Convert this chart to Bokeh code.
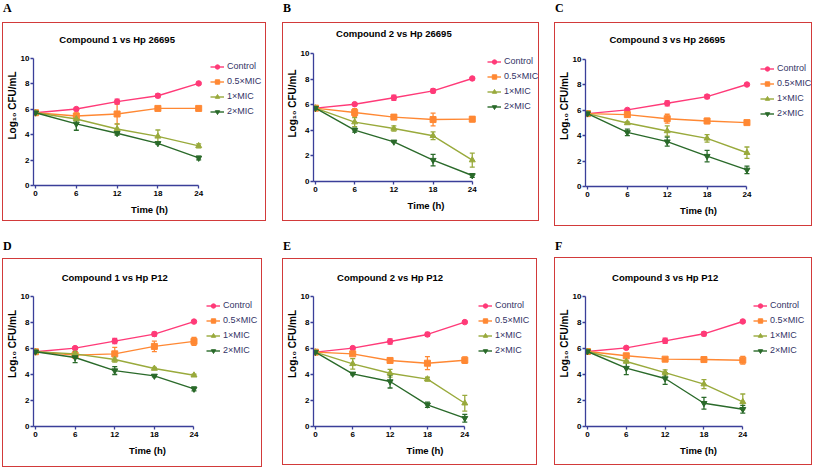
from bokeh.plotting import figure
from bokeh.models import (Range1d, Legend, LegendItem, Whisker, TeeHead, ColumnDataSource,
                          FixedTicker, Div, Label)
from bokeh.layouts import column, row
from bokeh.embed import file_html
from bokeh.resources import INLINE

hours = [0, 6, 12, 18, 24]
series_names = ["Control", "0.5×MIC", "1×MIC", "2×MIC"]
panel_letters = ["A", "B", "C", "D", "E", "F"]
panel_titles = ["Compound 1 vs Hp 26695", "Compound 2 vs Hp 26695", "Compound 3 vs Hp 26695",
                "Compound 1 vs Hp P12", "Compound 2 vs Hp P12", "Compound 3 vs Hp P12"]
y_ticks = [0, 2, 4, 6, 8, 10]

# Panel A
a_control = [5.73, 6.02, 6.60, 7.07, 8.04]
a_control_sd = [0.08, 0.10, 0.20, 0.15, 0.08]
a_half = [5.73, 5.47, 5.63, 6.07, 6.07]
a_half_sd = [0.08, 0.30, 0.80, 0.10, 0.08]
a_one = [5.73, 5.24, 4.45, 3.87, 3.12]
a_one_sd = [0.08, 0.15, 0.40, 0.50, 0.15]
a_two = [5.73, 4.85, 4.11, 3.32, 2.17]
a_two_sd = [0.08, 0.50, 0.15, 0.08, 0.15]
# Panel B
b_control = [5.73, 6.04, 6.54, 7.08, 8.05]
b_control_sd = [0.08, 0.10, 0.20, 0.15, 0.08]
b_half = [5.73, 5.39, 5.03, 4.84, 4.87]
b_half_sd = [0.08, 0.30, 0.10, 0.50, 0.20]
b_one = [5.73, 4.64, 4.14, 3.57, 1.67]
b_one_sd = [0.08, 0.35, 0.20, 0.30, 0.55]
b_two = [5.73, 4.01, 3.10, 1.67, 0.47]
b_two_sd = [0.08, 0.15, 0.05, 0.45, 0.15]
# Panel C
c_control = [5.74, 6.03, 6.55, 7.08, 8.03]
c_control_sd = [0.08, 0.10, 0.20, 0.15, 0.08]
c_half = [5.74, 5.66, 5.34, 5.16, 5.03]
c_half_sd = [0.08, 0.20, 0.35, 0.20, 0.15]
c_one = [5.74, 5.00, 4.37, 3.79, 2.66]
c_one_sd = [0.08, 0.08, 0.40, 0.30, 0.45]
c_two = [5.74, 4.26, 3.53, 2.39, 1.31]
c_two_sd = [0.08, 0.25, 0.35, 0.45, 0.30]
# Panel D
d_control = [5.75, 6.03, 6.57, 7.11, 8.07]
d_control_sd = [0.08, 0.10, 0.20, 0.15, 0.08]
d_half = [5.75, 5.49, 5.59, 6.16, 6.55]
d_half_sd = [0.08, 0.15, 0.50, 0.40, 0.30]
d_one = [5.75, 5.59, 5.15, 4.46, 3.94]
d_one_sd = [0.08, 0.20, 0.20, 0.08, 0.08]
d_two = [5.75, 5.31, 4.30, 3.89, 2.89]
d_two_sd = [0.08, 0.40, 0.30, 0.08, 0.15]
# Panel E
e_control = [5.72, 6.03, 6.54, 7.08, 8.03]
e_control_sd = [0.08, 0.10, 0.20, 0.15, 0.08]
e_half = [5.72, 5.59, 5.08, 4.87, 5.10]
e_half_sd = [0.08, 0.10, 0.10, 0.50, 0.25]
e_one = [5.72, 4.82, 4.10, 3.64, 1.79]
e_one_sd = [0.08, 0.40, 0.30, 0.15, 0.60]
e_two = [5.72, 4.05, 3.46, 1.67, 0.64]
e_two_sd = [0.08, 0.08, 0.50, 0.20, 0.30]
# Panel F
f_control = [5.77, 6.05, 6.59, 7.13, 8.08]
f_control_sd = [0.08, 0.10, 0.20, 0.15, 0.08]
f_half = [5.77, 5.44, 5.18, 5.15, 5.10]
f_half_sd = [0.08, 0.10, 0.10, 0.10, 0.30]
f_one = [5.77, 5.00, 4.15, 3.26, 1.90]
f_one_sd = [0.08, 0.08, 0.20, 0.35, 0.60]
f_two = [5.77, 4.49, 3.69, 1.79, 1.33]
f_two_sd = [0.08, 0.50, 0.45, 0.45, 0.30]

panels_data = [
    [(a_control, a_control_sd), (a_half, a_half_sd), (a_one, a_one_sd), (a_two, a_two_sd)],
    [(b_control, b_control_sd), (b_half, b_half_sd), (b_one, b_one_sd), (b_two, b_two_sd)],
    [(c_control, c_control_sd), (c_half, c_half_sd), (c_one, c_one_sd), (c_two, c_two_sd)],
    [(d_control, d_control_sd), (d_half, d_half_sd), (d_one, d_one_sd), (d_two, d_two_sd)],
    [(e_control, e_control_sd), (e_half, e_half_sd), (e_one, e_one_sd), (e_two, e_two_sd)],
    [(f_control, f_control_sd), (f_half, f_half_sd), (f_one, f_one_sd), (f_two, f_two_sd)],
]

# styling
COLORS = ["#ff3a78", "#ff8833", "#99aa3c", "#2a6a2a"]
MARKERS = ["circle", "square", "triangle", "inverted_triangle"]
AXIS_COLOR = "#3a3f99"
BOX_COLOR = "#d23a3a"
CELL_W, CELL_H = 271, 234
XPAD = 0.3
FONT = "Liberation Sans"

# per-panel geometry, pixels inside each 271x234 cell
GEOM = [
    dict(x0=31, x24=197, top=58, bottom=185, box=(3, 23, 265, 220), leg=(213, 66), title_y=39, let_top=2),
    dict(x0=38, x24=199, top=53, bottom=181, box=(12, 23, 267, 220), leg=(217, 61), title_y=33, let_top=2),
    dict(x0=40, x24=203, top=59, bottom=186, box=(13, 23, 269, 225), leg=(220, 68), title_y=39, let_top=2),
    dict(x0=30, x24=192, top=62, bottom=192, box=(3, 25, 261, 232), leg=(208, 71), title_y=43, let_top=6),
    dict(x0=43, x24=193, top=62, bottom=192, box=(12, 25, 265, 230), leg=(213, 71), title_y=43, let_top=6),
    dict(x0=44, x24=200, top=62, bottom=192, box=(13, 24, 269, 230), leg=(217, 71), title_y=43, let_top=6),
]


def make_panel(k):
    g = GEOM[k]
    bx0, by0, bx1, by1 = g["box"]
    fw, fh = bx1 - bx0, by1 - by0
    x0, x24 = g["x0"] - bx0, g["x24"] - bx0
    y10, y0 = g["top"] - by0, g["bottom"] - by0
    ppx = (x24 - x0) / 24.0
    ppy = (y0 - y10) / 10.0
    left = int(round(x0 - XPAD * ppx))
    f_right = fw
    f_top = 2
    x_end = 24 + (f_right - x24) / ppx
    y_end = 10 + (y10 - f_top) / ppy

    p = figure(width=fw, height=fh, x_range=Range1d(-XPAD, x_end), y_range=Range1d(0, y_end),
               min_border_left=left, min_border_right=fw - f_right,
               min_border_top=f_top, min_border_bottom=fh - y0,
               toolbar_location=None, output_backend="svg", tools="",
               styles={"outline": "1.5px solid " + BOX_COLOR, "outline-offset": "0px"})
    p.outline_line_color = None
    p.grid.visible = False
    p.background_fill_color = "white"
    p.border_fill_color = "white"

    for ax in (p.xaxis[0], p.yaxis[0]):
        ax.axis_line_color = AXIS_COLOR
        ax.axis_line_width = 1.3
        ax.major_tick_line_color = AXIS_COLOR
        ax.major_tick_line_width = 1.3
        ax.major_tick_out = 3
        ax.major_tick_in = 0
        ax.minor_tick_line_color = None
        ax.major_label_text_font = FONT
        ax.major_label_text_font_style = "bold"
        ax.major_label_text_font_size = "8px"
        ax.major_label_text_color = "black"
        ax.axis_label_text_font = FONT
        ax.axis_label_text_font_style = "bold"
        ax.axis_label_text_color = "black"
    p.xaxis.ticker = FixedTicker(ticks=hours)
    p.xaxis.bounds = (-XPAD, 24)
    p.xaxis.major_label_standoff = 2
    p.yaxis.ticker = FixedTicker(ticks=y_ticks)
    p.yaxis.bounds = (0, 10)
    p.yaxis.major_label_standoff = 1
    p.xaxis.axis_label = "Time (h)"
    p.xaxis.axis_label_text_font_size = "9.5px"
    p.xaxis.axis_label_standoff = 5
    p.yaxis.axis_label = "Log₁₀ CFU/mL"
    p.yaxis.axis_label_text_font_size = "10px"
    p.yaxis.axis_label_standoff = 0

    items = []
    for s, (vals, sd) in enumerate(panels_data[k]):
        src = ColumnDataSource(dict(x=hours, y=vals,
                                    upper=[v + e for v, e in zip(vals, sd)],
                                    lower=[v - e for v, e in zip(vals, sd)]))
        c = COLORS[s]
        w = Whisker(source=src, base="x", upper="upper", lower="lower", dimension="height",
                    line_color=c, line_width=1.3,
                    upper_head=TeeHead(size=5, line_color=c, line_width=1.3),
                    lower_head=TeeHead(size=5, line_color=c, line_width=1.3))
        p.add_layout(w)
        lr = p.line("x", "y", source=src, line_color=c, line_width=1.4)
        sr = p.scatter("x", "y", source=src, marker=MARKERS[s], size=6 if s else 5.5,
                       fill_color=c, line_color=c)
        items.append(LegendItem(label=series_names[s], renderers=[lr, sr]))

    n = len(items)
    row_h, gap, gw = 11, 4, 14
    leg_h = n * row_h + (n - 1) * gap
    lx, ly = g["leg"][0] - bx0, g["leg"][1] - by0
    leg_top = ly - row_h / 2.0
    legend = Legend(items=items, location=(lx - gw / 2.0 - left, y0 - (leg_top + leg_h)),
                    glyph_width=gw, glyph_height=row_h, label_height=row_h, spacing=gap,
                    label_standoff=3, padding=0, margin=0, border_line_color=None,
                    background_fill_alpha=0, label_text_font=FONT,
                    label_text_font_size="9px", label_text_color="#333366")
    p.add_layout(legend)

    title_y = 10 + (g["top"] - g["title_y"]) / ppy
    p.add_layout(Label(x=12, y=title_y, text=panel_titles[k], text_font=FONT,
                       text_font_style="bold", text_font_size="9.5px", text_color="black",
                       text_align="center", text_baseline="middle"))

    letter = Div(text=panel_letters[k], width=20, height=by0 - g["let_top"],
                 margin=(g["let_top"], 0, 0, bx0),
                 styles={"font-family": "Liberation Serif", "font-weight": "bold",
                         "font-size": "12px", "line-height": "12px", "color": "black"})
    fig_box = column(p, spacing=0, margin=(0, CELL_W - bx1, CELL_H - by1, bx0))
    return column(letter, fig_box, spacing=0, width=CELL_W, height=CELL_H)


cells = [make_panel(k) for k in range(6)]
layout = column(row(*cells[:3], spacing=0), row(*cells[3:], spacing=0), spacing=0)
open("out.html", "w").write(file_html(layout, INLINE))
